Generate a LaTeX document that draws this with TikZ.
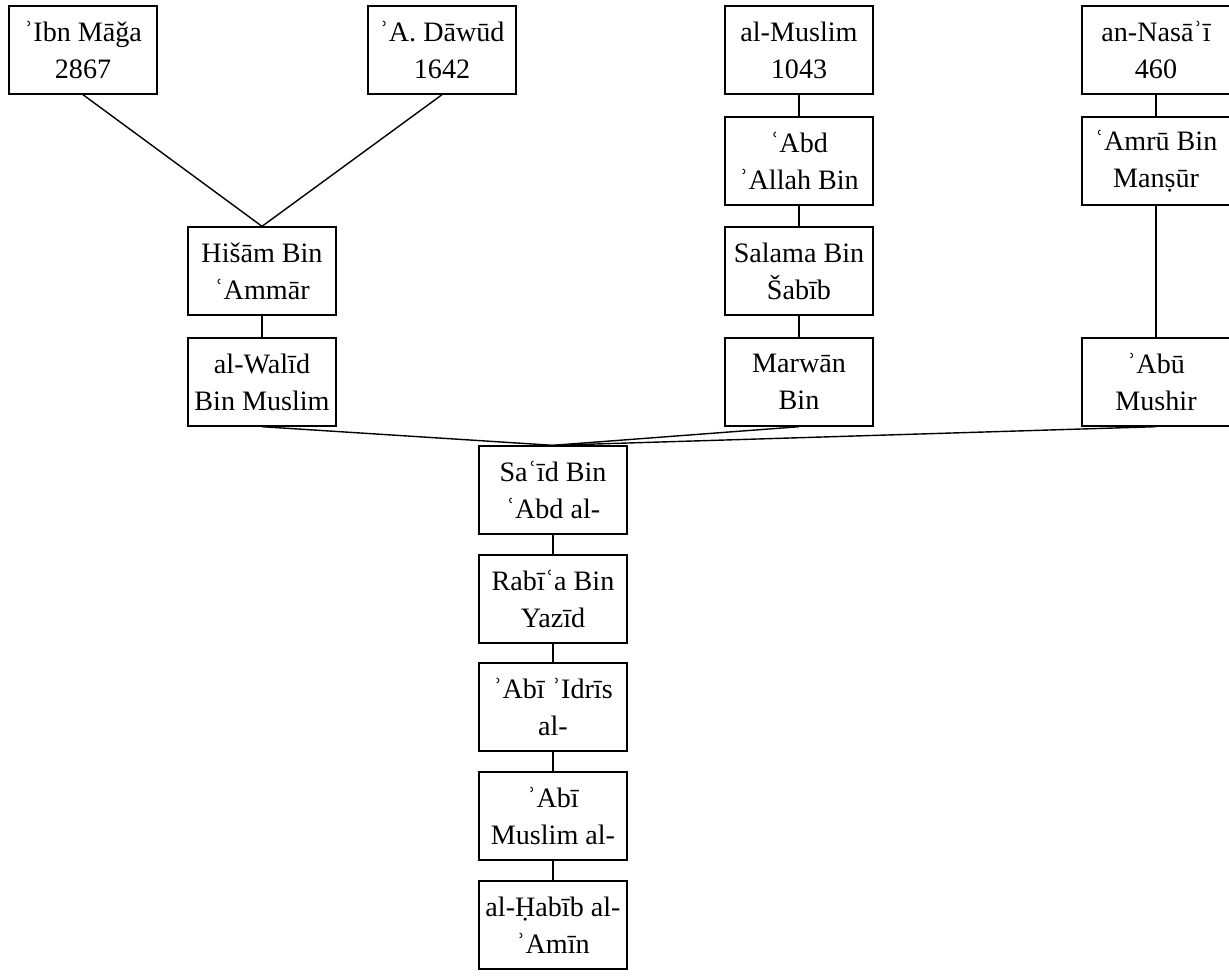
\documentclass[tikz,border=0pt]{standalone}
\usepackage{fontspec}
\setmainfont{Liberation Serif}
\usetikzlibrary{positioning}

\begin{document}
\begin{tikzpicture}[
    x=0.02cm, y=-0.02cm,
    narrator/.style={rectangle, draw, line width=0.8pt, minimum width=2.96cm, minimum height=1.76cm, inner sep=1pt, align=center, font=\fontsize{16pt}{21pt}\selectfont},
    link/.style={line width=0.8pt}
]
    \useasboundingbox (0,0) rectangle (1229,978);

    % Collectors
    \node[narrator] (ibn) at (83, 50) {ʾIbn Māǧa\\2867};
    \node[narrator] (dawud) at (442, 50) {ʾA. Dāwūd\\1642};
    \node[narrator] (muslim) at (799, 50) {al-Muslim\\1043};
    \node[narrator] (nasai) at (1156, 50) {an-Nasāʾī\\460};

    % Intermediate narrators
    \node[narrator] (abd) at (799, 161) {ʿAbd\\ʾAllah Bin};
    \node[narrator] (amru) at (1156, 161) {ʿAmrū Bin\\Manṣūr};
    \node[narrator] (hisam) at (262, 271) {Hišām Bin\\ʿAmmār};
    \node[narrator] (salama) at (799, 271) {Salama Bin\\Šabīb};
    \node[narrator] (walid) at (262, 382) {al-Walīd\\Bin Muslim};
    \node[narrator] (marwan) at (799, 382) {Marwān\\Bin};
    \node[narrator] (abu) at (1156, 382) {ʾAbū\\Mushir};

    % Common chain
    \node[narrator] (said) at (553, 490) {Saʿīd Bin\\ʿAbd al-};
    \node[narrator] (rabia) at (553, 599) {Rabīʿa Bin\\Yazīd};
    \node[narrator] (idris) at (553, 707) {ʾAbī ʾIdrīs\\al-};
    \node[narrator] (abimuslim) at (553, 816) {ʾAbī\\Muslim al-};
    \node[narrator] (habib) at (553, 925) {al-Ḥabīb al-\\ʾAmīn};

    % Links
    \foreach \a/\b in {ibn/hisam, dawud/hisam, hisam/walid, muslim/abd, abd/salama, salama/marwan, nasai/amru, amru/abu, walid/said, marwan/said, abu/said, said/rabia, rabia/idris, idris/abimuslim, abimuslim/habib} {
        \draw[link] (\a.south) -- (\b.north);
    }
\end{tikzpicture}
\end{document}
